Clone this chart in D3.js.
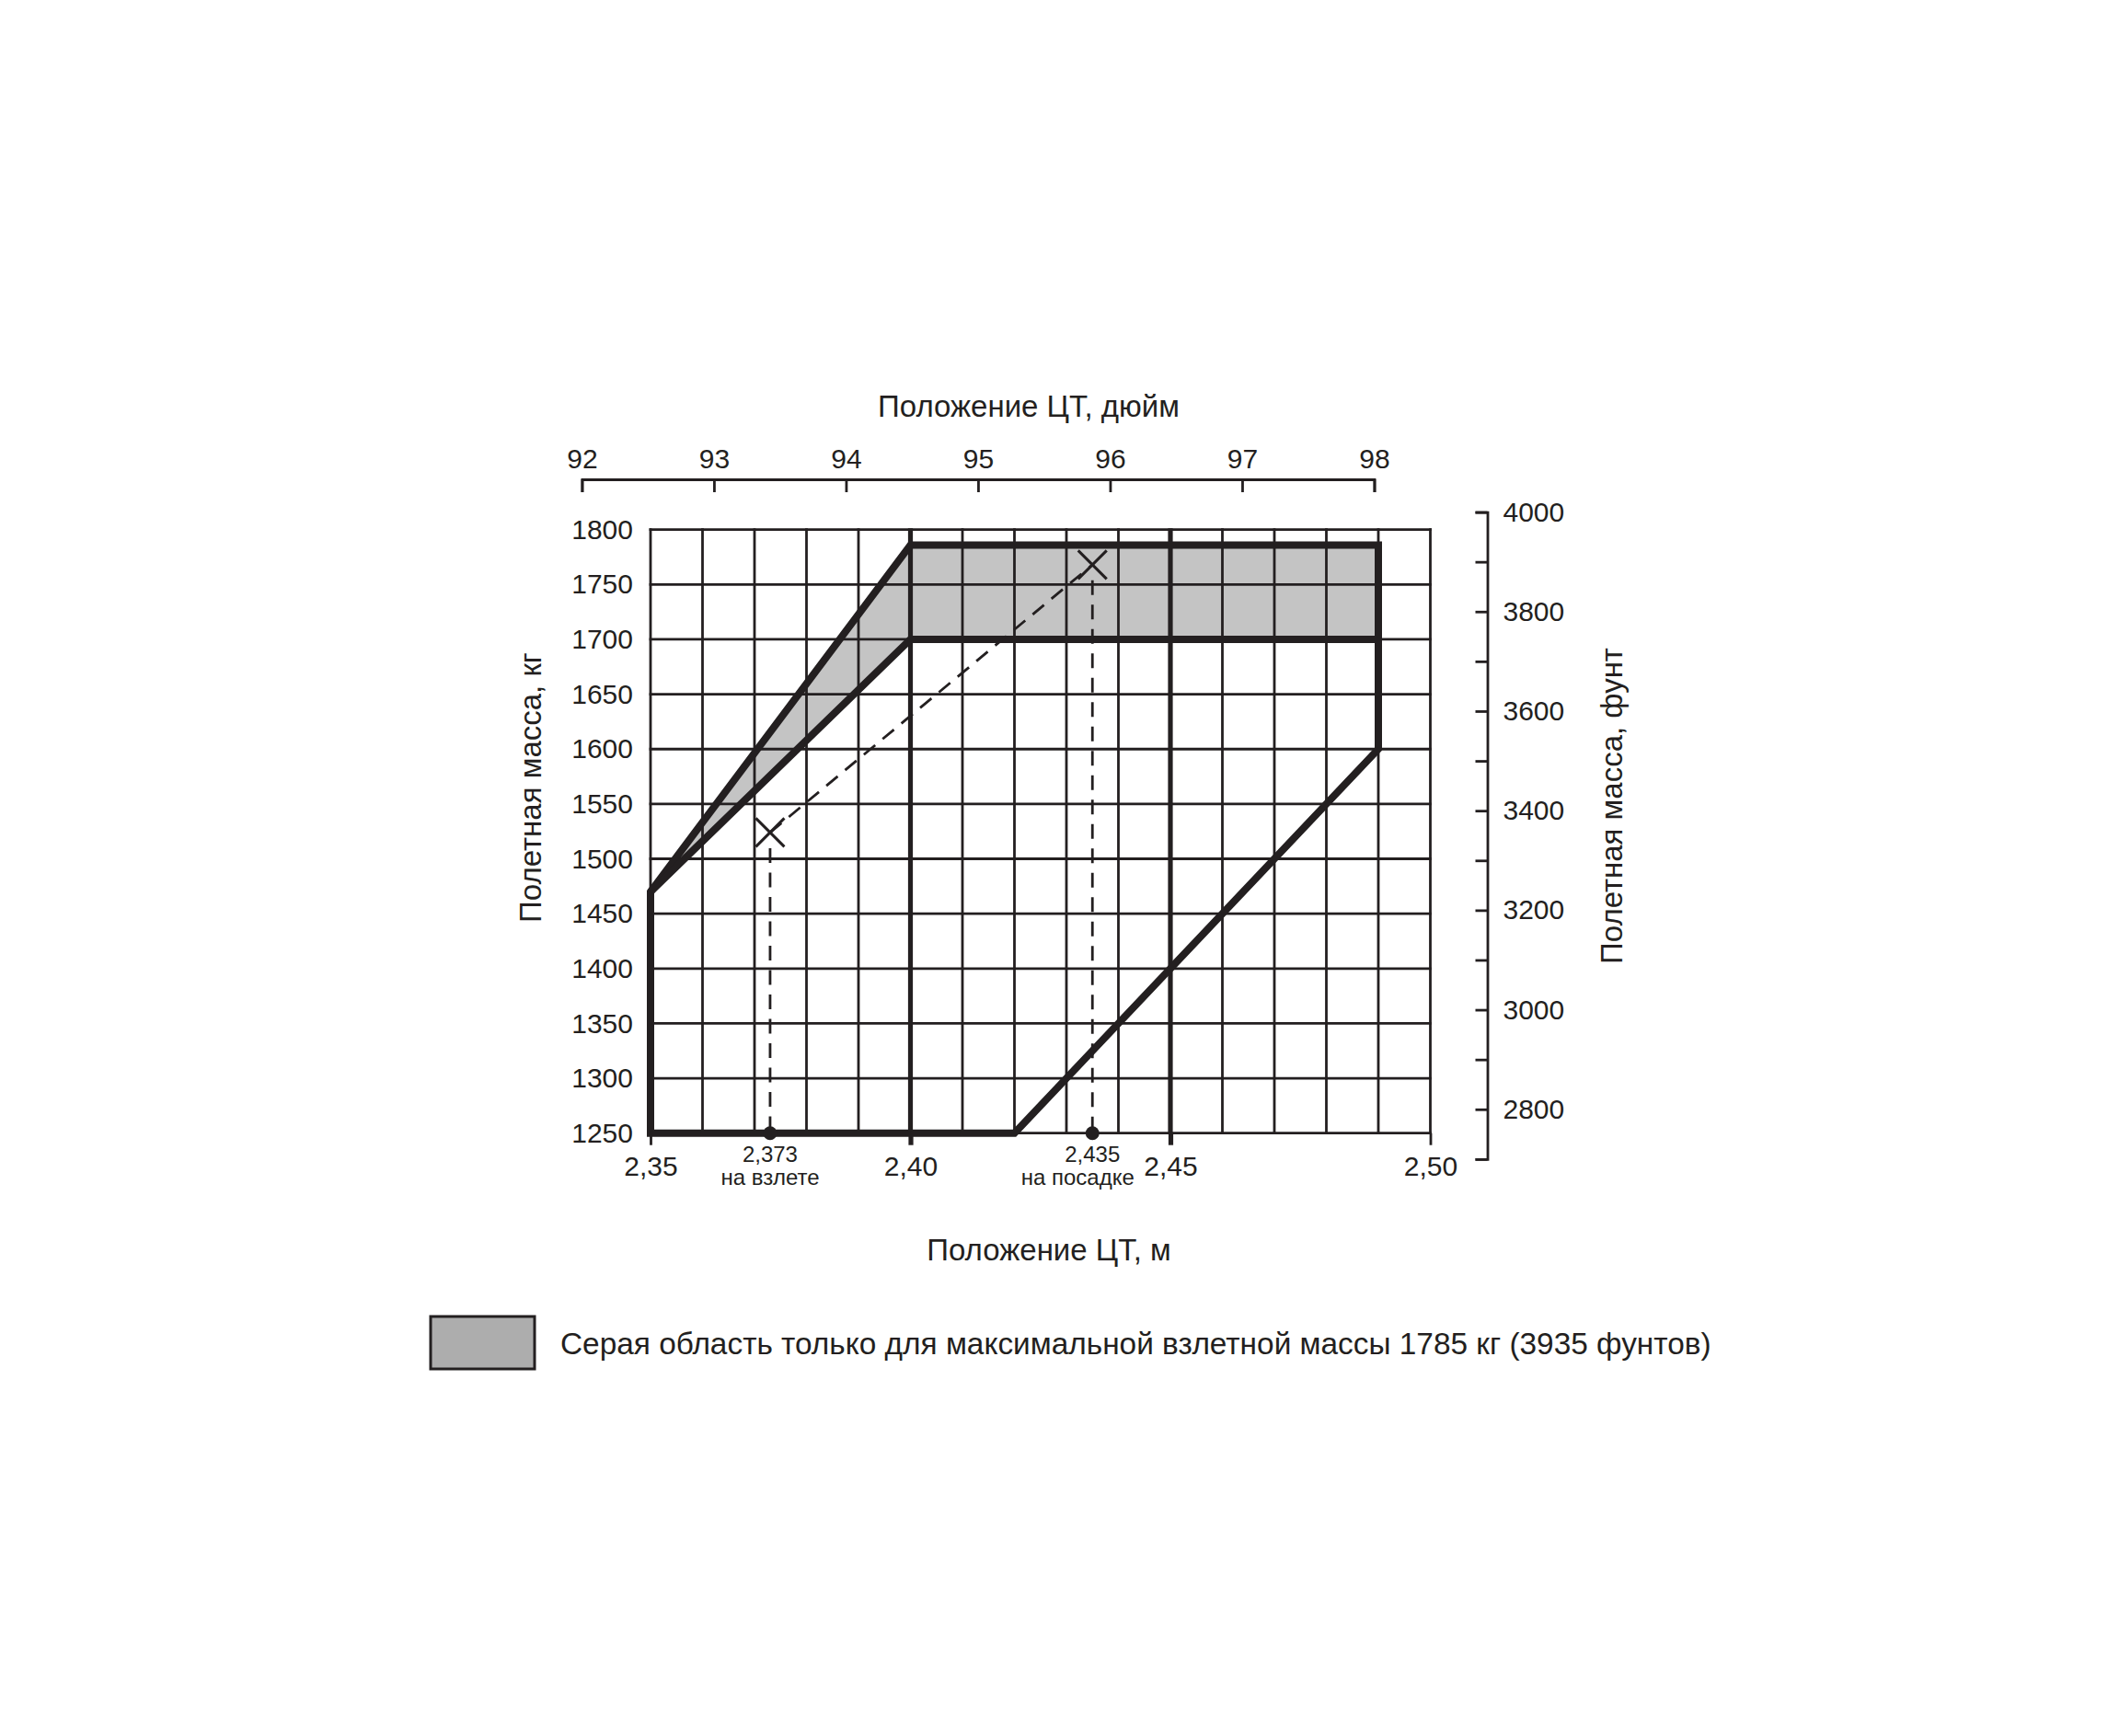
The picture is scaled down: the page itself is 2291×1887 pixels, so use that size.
<!DOCTYPE html>
<html>
<head>
<meta charset="utf-8">
<script src="https://cdn.jsdelivr.net/npm/d3@7"></script>
<style>
  html, body { margin: 0; padding: 0; background: #ffffff; }
  svg { display: block; }
  text { font-family: "Liberation Sans", Arial, Helvetica, sans-serif; fill: #231f20; }
</style>
</head>
<body>
<svg id="chart" width="2291" height="1887"></svg>
<script>
// ---------------- DATA ----------------
// grid positions (CG in metres) and mass (kg)
const cgGridM = [2.35, 2.36, 2.37, 2.38, 2.39, 2.40, 2.41, 2.42, 2.43, 2.44, 2.45, 2.46, 2.47, 2.48, 2.49, 2.50];
const cgMajorM = [2.40, 2.45];
const cgTickM = [2.35, 2.40, 2.45, 2.50];
const cgTickLabels = ["2,35", "2,40", "2,45", "2,50"];
const massTicksKg = [1250, 1300, 1350, 1400, 1450, 1500, 1550, 1600, 1650, 1700, 1750, 1800];
// top axis, inches
const cgTicksIn = [92, 93, 94, 95, 96, 97, 98];
// right axis, pounds
const massTicksLb = [2700, 2800, 2900, 3000, 3100, 3200, 3300, 3400, 3500, 3600, 3700, 3800, 3900, 4000];
const massLabelsLb = [2800, 3000, 3200, 3400, 3600, 3800, 4000];

// CG envelope (outer boundary)
const envelopeCG   = [2.35, 2.35, 2.40, 2.49, 2.49, 2.42];
const envelopeMass = [1250, 1470, 1786, 1786, 1600, 1250];
// normal-category limit line
const normalCG   = [2.35, 2.40, 2.49];
const normalMass = [1470, 1700, 1700];
// grey area (only for max take-off mass 1785 kg)
const greyCG   = [2.35, 2.40, 2.49, 2.49, 2.40];
const greyMass = [1470, 1786, 1786, 1700, 1700];

// example loading: take-off and landing
const exampleCG     = [2.373, 2.435];
const exampleMass   = [1524, 1768];
const exampleValue  = ["2,373", "2,435"];
const exampleName   = ["на взлете", "на посадке"];

const INCH = 0.0254;
const POUND = 0.45359237;

// ---------------- LAYOUT ----------------
const ink = "#231f20";
const FONT = '"Liberation Sans", Arial, sans-serif';
const svg = d3.select("#chart");
svg.append("rect").attr("width", 2291).attr("height", 1887).attr("fill", "#ffffff");

const x = d3.scaleLinear().domain([2.35, 2.50]).range([707, 1554.5]);
const y = d3.scaleLinear().domain([1250, 1800]).range([1231.7, 575.7]);
const xIn = d3.scaleLinear().domain([92, 98]).range([x(92 * INCH), x(98 * INCH)]);
const yLb = d3.scaleLinear().domain([2700, 4000]).range([y(2700 * POUND), y(4000 * POUND)]);

const x0 = x(2.35), x1 = x(2.50), y0 = y(1250), y1 = y(1800);
const isMajor = d => cgMajorM.some(m => Math.abs(m - d) < 1e-6);

// grey area
const pts = (cs, ms) => cs.map((c, i) => [x(c), y(ms[i])]);
svg.append("path")
  .attr("d", d3.line()(pts(greyCG, greyMass)) + "Z")
  .attr("fill", "#c4c4c4");

// grid
const grid = svg.append("g").attr("stroke", ink).attr("fill", "none");
grid.selectAll("line.h").data(massTicksKg).join("line")
  .attr("x1", x0 - 1.4).attr("x2", x1 + 1.4)
  .attr("y1", d => y(d)).attr("y2", d => y(d))
  .attr("stroke-width", 2.8);
grid.selectAll("line.v").data(cgGridM).join("line")
  .attr("x1", d => x(d)).attr("x2", d => x(d))
  .attr("y1", y1 - 1.4).attr("y2", y0 + 1.4)
  .attr("stroke-width", d => isMajor(d) ? 5.2 : 2.8);

// bottom axis (metres)
const xAxis = d3.axisBottom(x).tickValues(cgTickM)
  .tickFormat((d, i) => cgTickLabels[i]).tickSize(13).tickPadding(12).tickSizeOuter(0);
const gx = svg.append("g").attr("transform", `translate(0,${y0})`).call(xAxis);
gx.select(".domain").remove();
gx.selectAll(".tick line").attr("stroke", ink)
  .attr("stroke-width", d => isMajor(d) ? 5.2 : 2.8);
gx.selectAll(".tick text").attr("font-size", 30).attr("fill", ink).attr("font-family", FONT);

// left axis (kg)
const yAxis = d3.axisLeft(y).tickValues(massTicksKg).tickFormat(d3.format("d"))
  .tickSize(0).tickPadding(19);
const gy = svg.append("g").attr("transform", `translate(${x0},0)`).call(yAxis);
gy.select(".domain").remove();
gy.selectAll(".tick text").attr("font-size", 30).attr("fill", ink).attr("font-family", FONT);

// top axis (inches)
const topAxis = d3.axisTop(xIn).tickValues(cgTicksIn).tickFormat(d3.format("d"))
  .tickSize(-14).tickSizeOuter(-14).tickPadding(12);
const gt = svg.append("g").attr("transform", "translate(0,521)").call(topAxis);
gt.select(".domain").attr("stroke", ink).attr("stroke-width", 2.8);
gt.selectAll(".tick line").attr("stroke", ink).attr("stroke-width", 2.8);
gt.selectAll(".tick text").attr("font-size", 30).attr("fill", ink).attr("font-family", FONT);

// right axis (pounds)
const rightAxis = d3.axisRight(yLb).tickValues(massTicksLb)
  .tickFormat(d => massLabelsLb.includes(d) ? String(d) : "")
  .tickSize(-13).tickSizeOuter(-13).tickPadding(17);
const gr = svg.append("g").attr("transform", "translate(1616.5,-2)").call(rightAxis);
gr.select(".domain").attr("stroke", ink).attr("stroke-width", 2.8);
gr.selectAll(".tick line").attr("stroke", ink).attr("stroke-width", 2.8);
gr.selectAll(".tick text").attr("font-size", 30).attr("fill", ink).attr("font-family", FONT);

// envelope lines
svg.append("path")
  .attr("d", d3.line()(pts(envelopeCG, envelopeMass)) + "Z")
  .attr("fill", "none").attr("stroke", ink).attr("stroke-width", 8)
  .attr("stroke-linejoin", "miter");
svg.append("path")
  .attr("d", d3.line()(pts(normalCG, normalMass)))
  .attr("fill", "none").attr("stroke", ink).attr("stroke-width", 8)
  .attr("stroke-linejoin", "miter");

// example: dashed connecting line and verticals
const ex = exampleCG.map((c, i) => ({ c, m: exampleMass[i], v: exampleValue[i], n: exampleName[i], i }));
const dash = "16 10.5";
svg.append("line")
  .attr("x1", x(ex[0].c)).attr("y1", y(ex[0].m))
  .attr("x2", x(ex[1].c)).attr("y2", y(ex[1].m))
  .attr("stroke", ink).attr("stroke-width", 2.8).attr("stroke-dasharray", dash);
svg.selectAll("line.drop").data(ex).join("line")
  .attr("x1", d => x(d.c)).attr("x2", d => x(d.c))
  .attr("y1", d => y(d.m) + 17).attr("y2", y0)
  .attr("stroke", ink).attr("stroke-width", 2.8).attr("stroke-dasharray", dash);

// cross markers
ex.forEach(d => {
  const cx = x(d.c), cy = y(d.m), r = 15.5;
  const g = svg.append("g").attr("stroke", ink).attr("stroke-width", 3);
  g.append("line").attr("x1", cx - r).attr("y1", cy - r).attr("x2", cx + r).attr("y2", cy + r);
  g.append("line").attr("x1", cx - r).attr("y1", cy + r).attr("x2", cx + r).attr("y2", cy - r);
});

// dots on the axis
svg.selectAll("circle.dot").data(ex).join("circle")
  .attr("cx", d => x(d.c)).attr("cy", y0).attr("r", 7.5).attr("fill", ink);

// example labels
svg.selectAll("text.exv").data(ex).join("text")
  .attr("x", d => x(d.c)).attr("y", 1263)
  .attr("text-anchor", "middle").attr("font-size", 24)
  .text(d => d.v);
svg.selectAll("text.exn").data(ex).join("text")
  .attr("x", d => x(d.c) - (d.i === 1 ? 16 : 0)).attr("y", 1288)
  .attr("text-anchor", "middle").attr("font-size", 24)
  .text(d => d.n);

// axis titles
svg.append("text").attr("x", 1118).attr("y", 453).attr("text-anchor", "middle")
  .attr("font-size", 33).text("Положение ЦТ, дюйм");
svg.append("text").attr("x", 1140).attr("y", 1370).attr("text-anchor", "middle")
  .attr("font-size", 33).text("Положение ЦТ, м");
svg.append("text").attr("transform", "translate(588,856) rotate(-90)")
  .attr("text-anchor", "middle").attr("font-size", 33).text("Полетная масса, кг");
svg.append("text").attr("transform", "translate(1763,876) rotate(-90)")
  .attr("text-anchor", "middle").attr("font-size", 33).text("Полетная масса, фунт");

// legend
svg.append("rect").attr("x", 468).attr("y", 1431).attr("width", 113).attr("height", 57)
  .attr("fill", "#adadad").attr("stroke", ink).attr("stroke-width", 3);
svg.append("text").attr("x", 609).attr("y", 1472).attr("font-size", 33.4)
  .text("Серая область только для максимальной взлетной массы 1785 кг (3935 фунтов)");
</script>
</body>
</html>
